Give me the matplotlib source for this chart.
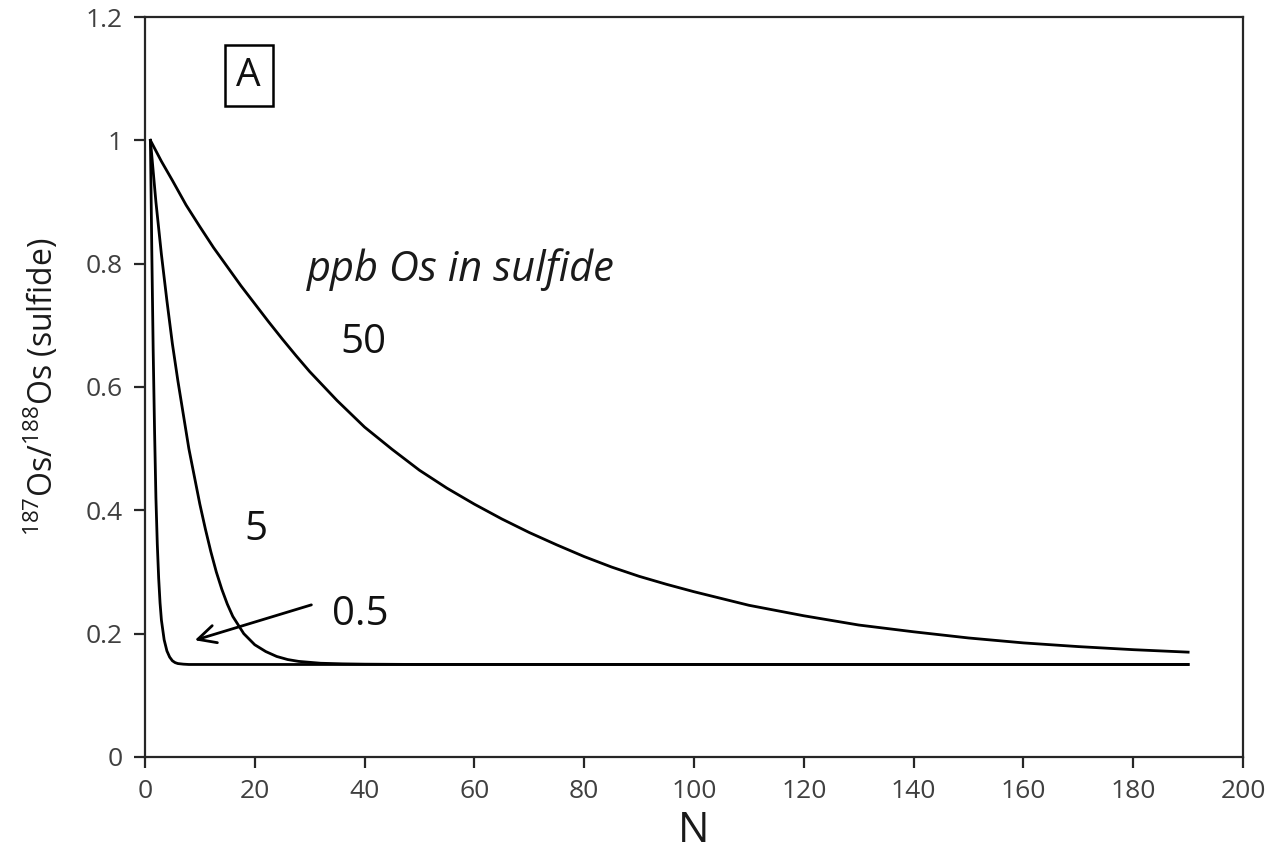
import matplotlib
matplotlib.use("Agg")
import matplotlib.pyplot as plt

# Sulfide 187Os/188Os ratio against number of equilibration steps N,
# for three Os concentrations in the sulfide (ppb)
n_50 = [1, 3, 5, 7.5, 10, 12.5, 15, 17.5, 20, 22.5, 25, 27.5, 30, 35, 40, 45,
        50, 55, 60, 65, 70, 75, 80, 85, 90, 95, 100, 110, 120, 130, 140, 150,
        160, 170, 180, 190]
os_50 = [1.0, 0.966, 0.935, 0.895, 0.86, 0.826, 0.795, 0.764, 0.735, 0.706,
         0.678, 0.651, 0.625, 0.578, 0.535, 0.499, 0.465, 0.436, 0.41, 0.386,
         0.364, 0.344, 0.325, 0.308, 0.293, 0.28, 0.268, 0.246, 0.229, 0.214,
         0.203, 0.193, 0.185, 0.179, 0.174, 0.17]

n_5 = [1, 2, 3, 4, 5, 6, 7, 8, 9, 10, 11, 12, 13, 14, 15, 16, 18, 20, 22, 24,
       26, 28, 32, 36, 40, 50, 190]
os_5 = [1.0, 0.9, 0.815, 0.74, 0.67, 0.61, 0.555, 0.5, 0.455, 0.41, 0.37,
        0.333, 0.3, 0.272, 0.248, 0.228, 0.2, 0.182, 0.171, 0.163, 0.158,
        0.155, 0.152, 0.151, 0.1505, 0.15, 0.15]

n_05 = [1, 1.25, 1.5, 1.75, 2, 2.25, 2.5, 2.75, 3, 3.5, 4, 4.5, 5, 5.5, 6, 7,
        8, 190]
os_05 = [1.0, 0.82, 0.66, 0.53, 0.42, 0.345, 0.29, 0.25, 0.222, 0.19, 0.172,
         0.162, 0.156, 0.153, 0.1515, 0.1505, 0.15, 0.15]

x_ticks = [0, 20, 40, 60, 80, 100, 120, 140, 160, 180, 200]
y_ticks = [0, 0.2, 0.4, 0.6, 0.8, 1.0, 1.2]
y_tick_labels = ["0", "0.2", "0.4", "0.6", "0.8", "1", "1.2"]

FONT = "Open Sans"
plt.rcParams["font.family"] = [FONT, "DejaVu Sans"]
plt.rcParams["mathtext.fontset"] = "custom"
plt.rcParams["mathtext.rm"] = FONT

fig = plt.figure(figsize=(12.77, 8.60), dpi=100)
ax = fig.add_axes([0.1135, 0.1198, 0.8599, 0.8604])

for xs, ys in ((n_50, os_50), (n_5, os_5), (n_05, os_05)):
    ax.plot(xs, ys, color="black", lw=2.0, solid_joinstyle="round")

ax.set_xlim(0, 200)
ax.set_ylim(0, 1.2)
ax.set_xticks(x_ticks)
ax.set_xticklabels([str(v) for v in x_ticks])
ax.set_yticks(y_ticks)
ax.set_yticklabels(y_tick_labels)

for side in ("left", "bottom", "right", "top"):
    ax.spines[side].set_color("#262626")
    ax.spines[side].set_linewidth(1.6)

ax.tick_params(axis="both", direction="out", length=8, width=1.6,
               color="#262626", labelsize=19, labelcolor="#404040", pad=8)

ax.set_xlabel("N", fontsize=30, color="#1a1a1a", labelpad=4)
ax.set_ylabel(r"$^{187}$Os/$^{188}$Os (sulfide)", fontsize=23,
              color="#1a1a1a", labelpad=18)

ax.text(29.5, 0.79, "ppb Os in sulfide", fontsize=30, style="italic",
        ha="left", va="center", color="#1a1a1a")
ax.text(39.7, 0.671, "50", fontsize=29, ha="center", va="center",
        color="#111111")
ax.text(20.2, 0.368, "5", fontsize=29, ha="center", va="center",
        color="#111111")
ax.text(39.2, 0.23, "0.5", fontsize=29, ha="center", va="center",
        color="#111111")

ax.annotate("", xy=(8.6, 0.188), xytext=(30.8, 0.248),
            arrowprops=dict(arrowstyle="->", color="black", lw=2.0,
                            mutation_scale=32))

ax.text(18.9, 1.105, "A", fontsize=28, ha="center", va="center",
        color="#111111",
        bbox=dict(boxstyle="square,pad=0.3", facecolor="white",
                  edgecolor="black", linewidth=1.8))

fig.savefig("out.png", dpi=100)
